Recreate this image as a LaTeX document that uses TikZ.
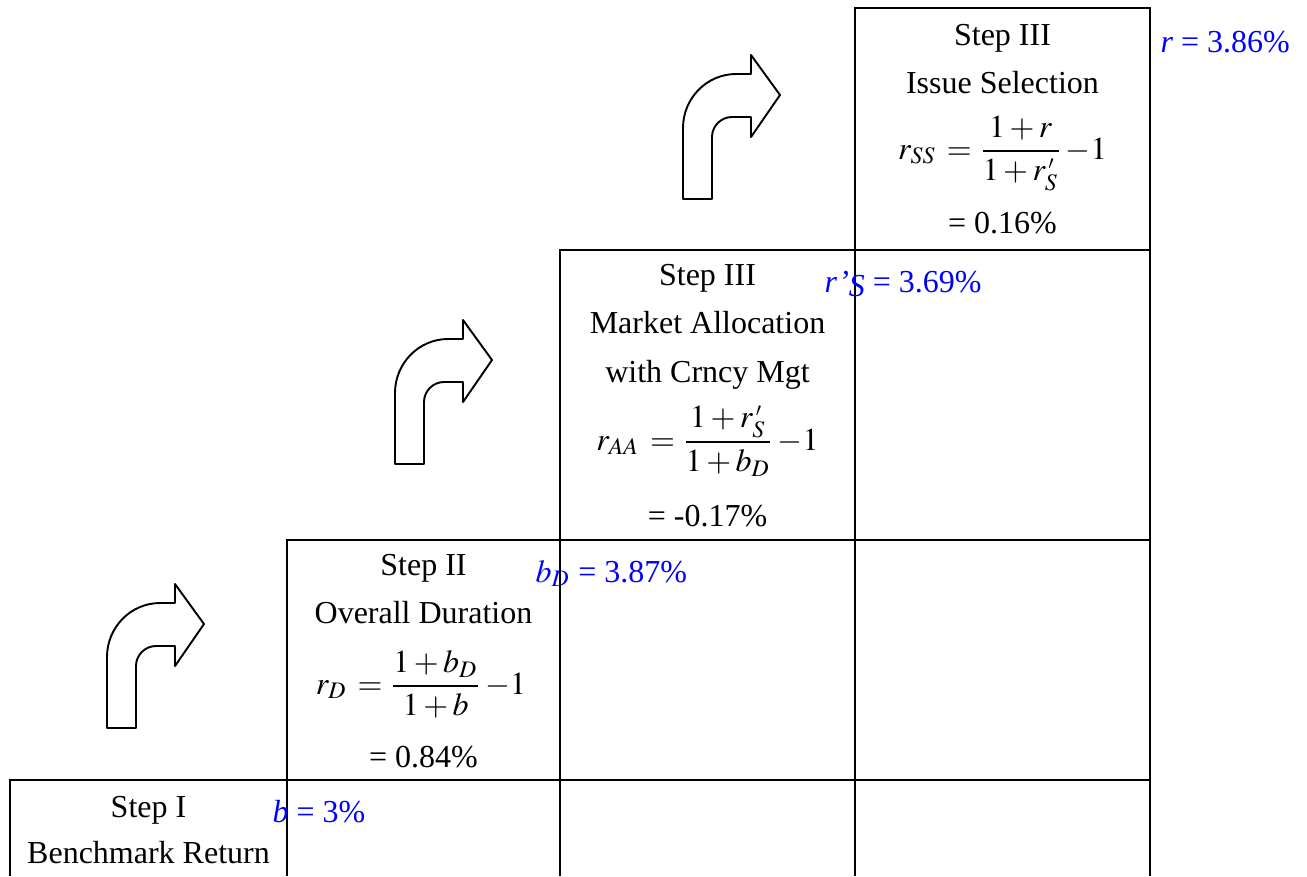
\documentclass[tikz,border=0pt]{standalone}
\usepackage{amsmath}
\usepackage{mathptmx}
\usepackage{fontspec}
\setmainfont{Liberation Serif}
\usetikzlibrary{positioning}
\definecolor{valblue}{RGB}{0,0,255}
\tikzset{
  grid line/.style={line width=0.65pt,black},
  turn arrow/.style={line width=0.6pt,black,fill=white,line join=round},
  cell text/.style={anchor=base,inner sep=0pt,font=\fontsize{10}{12}\selectfont},
  value label/.style={valblue,anchor=base west,inner sep=0pt,font=\fontsize{10}{12}\selectfont},
}

\begin{document}
\begin{tikzpicture}[x=0.3125pt,y=-0.3125pt]
\useasboundingbox (0,0) rectangle (1307,876);
% ---------- the staircase of cells ----------
\draw[grid line] (10,876) -- (10,780) -- (1150,780);
\draw[grid line] (287,876) -- (287,540) -- (1150,540);
\draw[grid line] (560,876) -- (560,250) -- (1150,250);
\draw[grid line] (855,876) -- (855,8) -- (1150,8) -- (1150,876);
% ---------- turning arrows between the steps ----------
\foreach \ax/\ay in {107/584, 395/320, 683/55}{
  \begin{scope}[shift={(\ax,\ay)}]
  \draw[turn arrow] (0,144) -- (0,73) .. controls (0,43) and (24,19) .. (53,19)
     -- (68,19) -- (68,0) -- (97,40) -- (68,82) -- (68,62) -- (49,62)
     .. controls (38,62) and (29,71) .. (29,82) -- (29,144) -- cycle;
  \end{scope}
}
% ---------- step I ----------
\node[cell text] (stepI) at (148.5,817) {Step I};
\node[cell text] (benchI) at (148.5,863) {Benchmark Return};
\node[value label] (valb) at (272,822) {\textit{b} = 3\%};
% ---------- step II ----------
\node[cell text] (stepII) at (423.5,575) {Step II};
\node[cell text] (durII) at (423.5,623) {Overall Duration};
\node[cell text] (eqII) at (421,694) {$r_{D}\,=\dfrac{1+b_{D}}{1+b}\,{-}1$};
\node[cell text] (resII) at (423.5,767) {= 0.84\%};
\node[value label] (valbD) at (535,582) {$b_{D}$ = 3.87\%};
% ---------- step III, allocation ----------
\node[cell text] (stepIIIa) at (707.5,285) {Step III};
\node[cell text] (mktIIIa) at (707.5,333) {Market Allocation};
\node[cell text] (cmgIIIa) at (707.5,382) {with Crncy Mgt};
\node[cell text] (eqIIIa) at (707.5,450) {$r_{AA}\,=\dfrac{1+r^{\,\scriptscriptstyle\prime}_{S}}{1+b_{D}}\,{-}1$};
\node[cell text] (resIIIa) at (707.5,526) {= -0.17\%};
\node[value label] (valrS) at (824,292) {\textit{r’}\raisebox{-0.3ex}{\textit{S}} = 3.69\%};
% ---------- step III, selection ----------
\node[cell text] (stepIIIb) at (1002.5,45) {Step III};
\node[cell text] (issIIIb) at (1002.5,93) {Issue Selection};
\node[cell text] (eqIIIb) at (1002.5,159) {$r_{SS}\,=\dfrac{1+r}{1+r^{\,\scriptscriptstyle\prime}_{S}}\,{-}1$};
\node[cell text] (resIIIb) at (1002.5,233) {= 0.16\%};
\node[value label] (valr) at (1160,52) {\textit{r} = 3.86\%};
\end{tikzpicture}
\end{document}
